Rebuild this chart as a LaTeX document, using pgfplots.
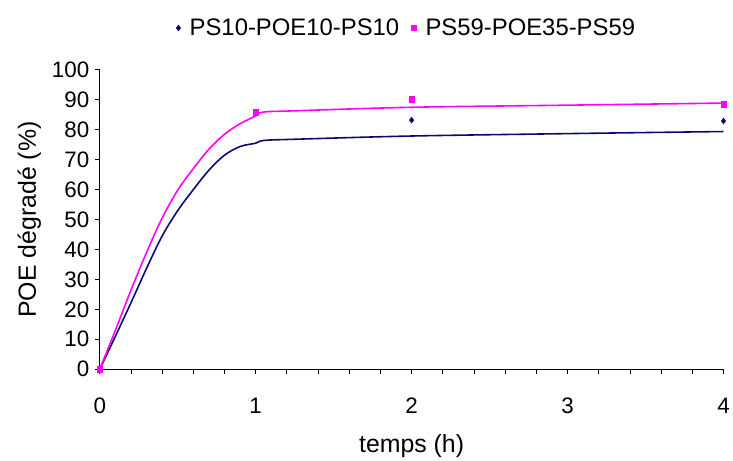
\documentclass[border=0pt]{standalone}
\usepackage{pgfplots}
\pgfplotsset{compat=1.18}
\usepackage{fontspec}
\setmainfont{Liberation Sans}
\definecolor{navy}{RGB}{10,10,110}
\definecolor{mag}{RGB}{255,0,255}
\begin{document}
\begin{tikzpicture}
\begin{axis}[
  scale only axis,
  width=625bp, height=300bp,
  xmin=0, xmax=4, ymin=0, ymax=100,
  axis lines=left,
  axis line style={-, black, line width=0.8pt},
  xtick={0,1,2,3,4},
  minor x tick num=4,
  ytick={0,10,...,100},
  tick align=outside,
  major tick length=5bp, minor tick length=5bp,
  tick style={black, line width=0.8pt},
  /pgf/number format/assume math mode=true,
  ticklabel style={font=\fontsize{22.5}{26}\selectfont},
  xticklabel style={yshift=-20bp},
  yticklabel style={xshift=-2bp},
  xlabel={temps (h)}, ylabel={POE dégradé (\%)},
  xlabel style={font=\fontsize{25}{28}\selectfont, yshift=-14bp},
  ylabel style={font=\fontsize{25}{28}\selectfont, yshift=4bp},
  legend style={at={(0.492,1.14)}, anchor=center, draw=none, fill=none,
    font=\fontsize{24}{28}\selectfont, legend columns=2,
    /tikz/every odd column/.append style={column sep=7bp},
    /tikz/every even column/.append style={column sep=10bp}},
  legend image code/.code={\draw[#1] plot coordinates {(0bp,0bp)};},
  clip=false,
]
% smooth curves
\addplot[navy, line width=1.6pt, smooth, tension=0.55, forget plot] coordinates {
 (0,0) (0.1,11) (0.2,22.2) (0.3,33.7) (0.4,44.5) (0.5,53) (0.6,60) (0.7,66.5)
 (0.8,71.5) (0.9,74.4) (1.0,75.5) (1.05,76.4) (1.24,76.8) (2,77.9) (3,78.7) (4,79.4)};
\addplot[mag, line width=1.6pt, smooth, tension=0.55, forget plot] coordinates {
 (0,0) (0.1,13) (0.2,26.4) (0.3,39) (0.4,50.5) (0.5,59.8) (0.6,67) (0.7,73.5)
 (0.8,78.5) (0.9,82) (1.0,84.6) (1.05,85.9) (1.24,86.3) (2,87.5) (3,88.2) (4,88.9)};
% data points
\addplot[navy, only marks, mark=diamond*, mark size=3bp] coordinates {
 (0,0) (2,83.2) (4,82.9)};
\addplot[mag, only marks, mark=square*, mark size=2.7bp] coordinates {
 (0,0) (1,85.8) (2,90.2) (4,88.5)};
\legend{PS10-POE10-PS10, PS59-POE35-PS59}
\end{axis}
\useasboundingbox (-100bp,-83bp) rectangle (633bp,370bp);
\end{tikzpicture}
\end{document}
